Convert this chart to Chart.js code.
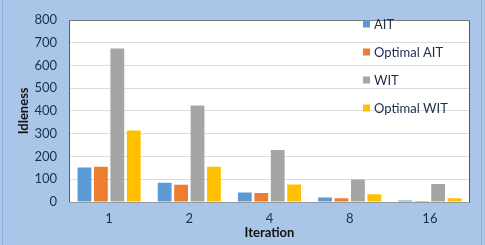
<!DOCTYPE html>
<html>
<head>
<meta charset="utf-8">
<script src="https://cdn.jsdelivr.net/npm/chart.js@4"></script>
<style>
  html, body { margin: 0; padding: 0; background: #a9c5e7; }
  .wrap { position: relative; width: 485px; height: 245px; box-sizing: border-box; }
  .wrap::before { content: ''; position: absolute; left: 2px; top: 0; bottom: 0; width: 1px; background: #8fb0da; }
  .wrap::after  { content: ''; position: absolute; right: 3px; top: 0; bottom: 0; width: 1px; background: #8fb0da; }
</style>
</head>
<body>
<div class="wrap"><canvas id="c" width="485" height="245"></canvas></div>
<script>
// ── Data ───────────────────────────────────────────────────
const iterations  = ['1', '2', '4', '8', '16'];
const aitVals     = [152, 85, 42, 20, 7];
const optAitVals  = [155, 76, 39, 17, 4];
const witVals     = [674, 424, 228, 99, 79];
const optWitVals  = [314, 155, 77, 34, 17];
const yTicks      = [0, 100, 200, 300, 400, 500, 600, 700, 800];

const FONT     = 'Lato, "Open Sans", sans-serif';
const TEXT_CLR = '#1f2d4d';

// ── Legend inside plot (top-right) ─────────────────────────
const insideLegend = {
    id: 'insideLegend',
    afterDraw(chart) {
        const ctx = chart.ctx;
        const ys  = [24, 52, 80, 108];
        ctx.save();
        ctx.font = '13px ' + FONT;
        ctx.textBaseline = 'middle';
        chart.data.datasets.forEach((ds, i) => {
            ctx.fillStyle = ds.backgroundColor;
            ctx.fillRect(363, ys[i] - 3.5, 7, 7);
            ctx.fillStyle = TEXT_CLR;
            ctx.fillText(ds.label, 374, ys[i] + 1);
        });
        ctx.restore();
    },
};

// ── Plot area background + frame ───────────────────────────
const plotFrame = {
    id: 'plotFrame',
    beforeDraw(chart) {
        const { ctx, chartArea: a } = chart;
        ctx.save();
        ctx.fillStyle = '#ffffff';
        ctx.fillRect(a.left, a.top, a.right - a.left, a.bottom - a.top);
        ctx.restore();
    },
    afterDraw(chart) {
        const { ctx, chartArea: a } = chart;
        ctx.save();
        ctx.strokeStyle = '#5a5a5a';
        ctx.lineWidth = 1;
        ctx.beginPath();
        ctx.moveTo(a.left + 0.5, a.bottom);
        ctx.lineTo(a.left + 0.5, a.top + 0.5);
        ctx.lineTo(a.right - 0.5, a.top + 0.5);
        ctx.lineTo(a.right - 0.5, a.bottom);
        ctx.stroke();
        ctx.restore();
    },
};

const mkSet = (label, data, color) => ({
    label, data,
    backgroundColor: color,
    borderWidth: 0,
    categoryPercentage: 0.82,
    barPercentage: 0.84,
});

new Chart(document.getElementById('c'), {
    type: 'bar',
    data: {
        labels: iterations,
        datasets: [
            mkSet('AIT',         aitVals,    '#5b9bd5'),
            mkSet('Optimal AIT', optAitVals, '#ed7d31'),
            mkSet('WIT',         witVals,    '#a5a5a5'),
            mkSet('Optimal WIT', optWitVals, '#ffc000'),
        ],
    },
    options: {
        responsive: false,
        animation: false,
        layout: { padding: { left: 4, top: 16, right: 15, bottom: 4 } },
        plugins: { legend: { display: false }, tooltip: { enabled: false } },
        scales: {
            x: {
                grid: { display: false, drawTicks: false },
                border: { color: '#9a9a9a' },
                ticks: { color: TEXT_CLR, font: { family: FONT, size: 13 }, padding: 9 },
                title: { display: true, text: 'Iteration', color: '#111',
                         font: { family: FONT, size: 13, weight: 'bold' }, padding: { top: 2, bottom: 0 } },
                afterFit: s => { s.height = 39; },
            },
            y: {
                min: 0, max: 800,
                afterBuildTicks: s => { s.ticks = yTicks.map(v => ({ value: v })); },
                grid: { color: '#dcdcdc', drawTicks: false },
                border: { display: false },
                ticks: { color: TEXT_CLR, font: { family: FONT, size: 13 }, padding: 12 },
                title: { display: true, text: 'Idleness', color: '#111',
                         font: { family: FONT, size: 13, weight: 'bold' }, padding: { top: 12, bottom: 0 } },
                afterFit: s => { s.width = 65; },
            },
        },
    },
    plugins: [plotFrame, insideLegend],
});
</script>
</body>
</html>
